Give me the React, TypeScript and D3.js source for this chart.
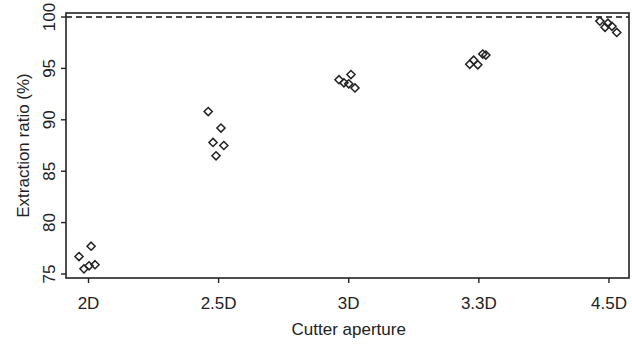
import React from "react";
import * as d3 from "d3";

const categories = ["2D", "2.5D", "3D", "3.3D", "4.5D"];
// jitter offsets (in category units) and extraction ratios per category
const jitter2D = [-0.073, -0.035, 0.004, 0.02, 0.05];
const values2D = [76.7, 75.5, 75.8, 77.7, 75.9];
const jitter25D = [-0.08, -0.043, -0.02, 0.018, 0.04];
const values25D = [90.8, 87.8, 86.5, 89.2, 87.5];
const jitter3D = [-0.075, -0.037, 0.0, 0.017, 0.048];
const values3D = [93.9, 93.6, 93.5, 94.4, 93.1];
const jitter33D = [-0.07, -0.04, -0.008, 0.03, 0.054];
const values33D = [95.4, 95.8, 95.35, 96.4, 96.3];
const jitter45D = [-0.07, -0.03, -0.008, 0.023, 0.06];
const values45D = [99.6, 99.0, 99.4, 99.1, 98.5];
const yTicks = [75, 80, 85, 90, 95, 100];
const referenceLine = 100;

const groups = [
  { jitter: jitter2D, values: values2D },
  { jitter: jitter25D, values: values25D },
  { jitter: jitter3D, values: values3D },
  { jitter: jitter33D, values: values33D },
  { jitter: jitter45D, values: values45D },
];

export default function App() {
  const W = 632, H = 347;
  const left = 66, right = 629, top = 13, bottom = 278;
  const x = d3.scaleLinear().domain([-0.173, 4.154]).range([left, right]);
  const y = d3.scaleLinear().domain([74.61, 100.39]).range([bottom, top]);
  const font = "'Liberation Sans', Arial, sans-serif";
  const diamond = d3.symbol().type(d3.symbolDiamond2).size(42)();
  const points = groups.flatMap((g, i) =>
    g.values.map((v, j) => ({ cx: x(i + g.jitter[j]), cy: y(v) }))
  );
  return (
    <svg width={W} height={H} style={{ position: "absolute", left: 0, top: 0, background: "#fff" }}>
      <rect x={0} y={0} width={W} height={H} fill="#fff" />
      <line x1={left} x2={right} y1={y(referenceLine)} y2={y(referenceLine)} stroke="#111" strokeWidth={1.5} strokeDasharray="6,4" />
      <rect x={left} y={top} width={right - left} height={bottom - top} fill="none" stroke="#222" strokeWidth={1.6} />
      {yTicks.map((t) => (
        <g key={t}>
          <line x1={left - 5} x2={left} y1={y(t)} y2={y(t)} stroke="#222" strokeWidth={1.4} />
          <text transform={`translate(55,${y(t)}) rotate(-90)`} textAnchor="middle" fontFamily={font} fontSize={17} fill="#222">{t}</text>
        </g>
      ))}
      {categories.map((c, i) => (
        <g key={c}>
          <line x1={x(i)} x2={x(i)} y1={bottom} y2={bottom + 5} stroke="#222" strokeWidth={1.4} />
          <text x={x(i)} y={309} textAnchor="middle" fontFamily={font} fontSize={17} fill="#222">{c}</text>
        </g>
      ))}
      <text x={x(2)} y={335} textAnchor="middle" fontFamily={font} fontSize={17} fill="#222">Cutter aperture</text>
      <text transform={`translate(29,${(top + bottom) / 2}) rotate(-90)`} textAnchor="middle" fontFamily={font} fontSize={17} fill="#222">Extraction ratio (%)</text>
      {points.map((p, k) => (
        <path key={k} d={diamond} transform={`translate(${p.cx},${p.cy})`} fill="none" stroke="#222" strokeWidth={1.5} />
      ))}
    </svg>
  );
}
